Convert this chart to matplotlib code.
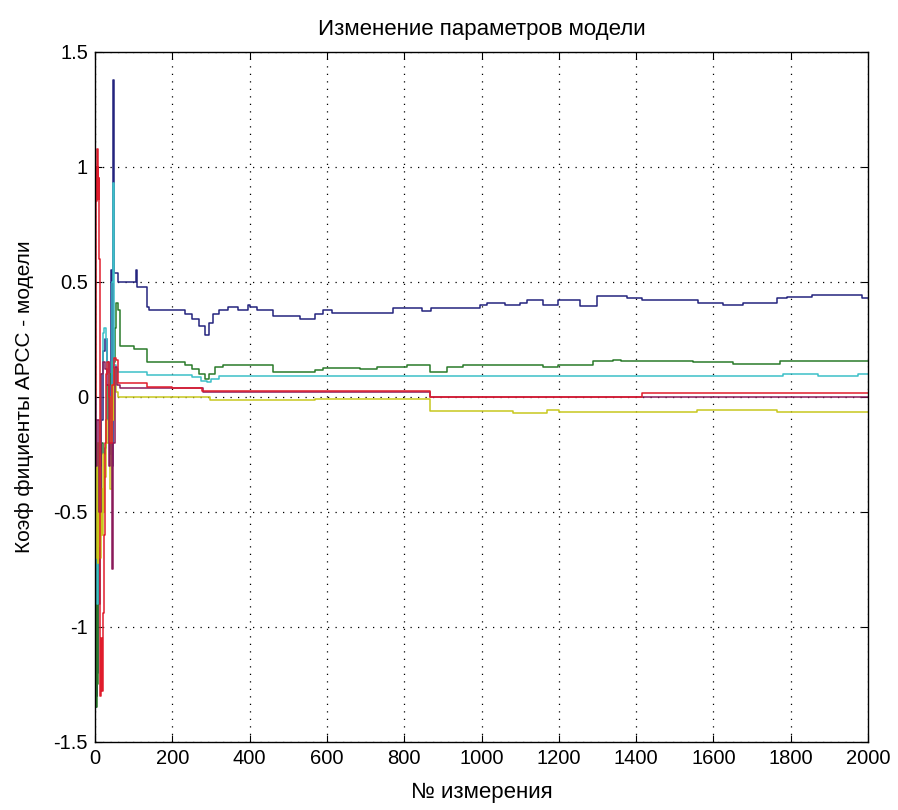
import matplotlib
matplotlib.use('Agg')
import matplotlib.pyplot as plt

plt.rcParams['font.family'] = ['Liberation Sans', 'DejaVu Sans']

navy_x = [1, 2, 3, 4, 5, 6, 8, 10, 12, 16, 20, 25, 30, 35, 40, 42, 45, 47, 49, 60, 106,
          108, 134, 140, 233, 250, 270, 285, 295, 305, 320, 345, 370, 395, 400, 420, 461,
          530, 570, 590, 612, 771, 845, 870, 996, 1013, 1060, 1100, 1118, 1159, 1198,
          1255, 1299, 1376, 1415, 1560, 1625, 1677, 1764, 1790, 1855, 1984, 2000]
navy_y = [-0.7, -1.35, -0.9, -1.3, -0.75, -1.2, -0.6, -0.9, -0.3, -0.1, 0.2, 0.25, 0.15,
          -0.05, -0.25, 0.55, -0.3, 1.38, 0.54, 0.50, 0.55, 0.48, 0.39, 0.38, 0.36, 0.34,
          0.31, 0.27, 0.32, 0.36, 0.38, 0.39, 0.38, 0.40, 0.39, 0.38, 0.35, 0.34, 0.36,
          0.38, 0.365, 0.385, 0.375, 0.385, 0.40, 0.41, 0.40, 0.41, 0.42, 0.40, 0.42,
          0.395, 0.44, 0.43, 0.42, 0.41, 0.40, 0.41, 0.43, 0.435, 0.445, 0.43, 0.43]

green_x = [1, 2, 3, 4, 6, 8, 10, 15, 20, 25, 28, 32, 38, 45, 52, 55, 60, 65, 100, 134,
           233, 250, 270, 285, 295, 310, 330, 461, 570, 590, 686, 730, 807, 867, 910, 952,
           1094, 1159, 1198, 1289, 1340, 1360, 1547, 1651, 1772, 2000]
green_y = [-0.3, -1.1, -1.35, -0.9, -1.25, -0.6, -0.4, -0.2, -0.25, -0.22, -0.1, 0.05,
           0.1, 0.15, 0.3, 0.41, 0.38, 0.22, 0.21, 0.15, 0.14, 0.12, 0.10, 0.08, 0.10,
           0.13, 0.14, 0.11, 0.117, 0.126, 0.12, 0.13, 0.14, 0.11, 0.13, 0.14, 0.14, 0.13,
           0.14, 0.155, 0.16, 0.155, 0.15, 0.145, 0.155, 0.155]

cyan_x = [1, 4, 8, 12, 16, 20, 24, 28, 32, 36, 40, 44, 47, 50, 55, 60, 134, 250, 275,
          290, 300, 320, 1780, 1871, 1974, 2000]
cyan_y = [-0.5, -0.9, -0.6, -0.2, 0.1, 0.28, 0.3, 0.25, 0.1, -0.2, -0.1, 0.5, 0.93, 0.14,
          0.12, 0.11, 0.095, 0.085, 0.07, 0.065, 0.08, 0.09, 0.10, 0.09, 0.10, 0.10]

red_x = [0, 2, 3, 4, 5, 6, 7, 8, 9, 10, 11, 12, 13, 14, 16, 17, 20, 22, 25, 28, 32, 36,
         40, 45, 50, 55, 60, 134, 200, 277, 867, 1415, 2000]
red_y = [0.0, 1.0, 0.85, 0.98, 0.87, 1.08, 0.9, 1.0, 0.86, 0.95, 0.6, -0.5, -1.2, -1.3,
         -1.05, -1.28, -0.94, -0.6, -0.2, 0.1, 0.15, 0.0, -0.2, 0.05, 0.17, 0.16, 0.06,
         0.045, 0.04, 0.025, 0.0, 0.018, 0.018]

magenta_x = [0, 3, 6, 10, 15, 20, 25, 30, 35, 40, 44, 47, 52, 58, 65, 280, 867, 2000]
magenta_y = [0.0, -0.3, -0.1, -0.5, 0.1, 0.15, 0.12, 0.05, -0.3, -0.2, -0.75, -0.2, 0.13,
             0.05, 0.04, 0.02, 0.0, 0.0]

yellow_x = [0, 2, 3, 4, 5, 6, 7, 8, 9, 10, 11, 12, 13, 14, 16, 18, 20, 22, 24, 28, 32,
            36, 40, 43, 46, 50, 55, 60, 297, 570, 867, 1082, 1169, 1200, 1557, 1764, 2000]
yellow_y = [-0.1, -0.5, -0.25, -0.7, -0.3, -0.6, -0.2, -0.72, -0.35, -0.65, -0.25, -0.55,
            -0.3, -0.7, -0.4, -0.6, -0.25, -0.5, -0.35, -0.1, -0.2, 0.0, -0.4, 0.05, -0.1,
            0.12, 0.02, 0.0, -0.015, -0.01, -0.06, -0.07, -0.055, -0.065, -0.055, -0.065,
            -0.065]

x_ticks = [0, 200, 400, 600, 800, 1000, 1200, 1400, 1600, 1800, 2000]
y_ticks = [-1.5, -1, -0.5, 0, 0.5, 1, 1.5]
y_tick_labels = ['-1.5', '-1', '-0.5', '0', '0.5', '1', '1.5']

fig = plt.figure(figsize=(8.98, 8.10), dpi=100)
ax = fig.add_axes([0.1058, 0.0840, 0.8608, 0.8519])

series = [
    (navy_x, navy_y, '#24247e'),
    (green_x, green_y, '#2a7a2a'),
    (cyan_x, cyan_y, '#3cc0c8'),
    (yellow_x, yellow_y, '#c8c81e'),
    (magenta_x, magenta_y, '#8a1a5a'),
    (red_x, red_y, '#e01c2c'),
]
for xs, ys, c in series:
    ax.plot(xs, ys, drawstyle='steps-post', color=c, lw=1.1)

ax.set_xlim(0, 2000)
ax.set_ylim(-1.5, 1.5)
ax.set_xticks(x_ticks)
ax.set_yticks(y_ticks)
ax.set_yticklabels(y_tick_labels)
ax.grid(True, color='black', linestyle=(0, (1, 5)), linewidth=0.9)
ax.tick_params(direction='in', top=True, right=True, length=5, labelsize=14.5, pad=5)
for s in ax.spines.values():
    s.set_linewidth(1.0)

ax.set_title('Изменение параметров модели', fontsize=16, pad=12)
ax.set_xlabel('№ измерения', fontsize=16, labelpad=10)
ax.set_ylabel('Коэф фициенты АРСС - модели', fontsize=15, labelpad=14)

fig.savefig('out.png', dpi=100)
